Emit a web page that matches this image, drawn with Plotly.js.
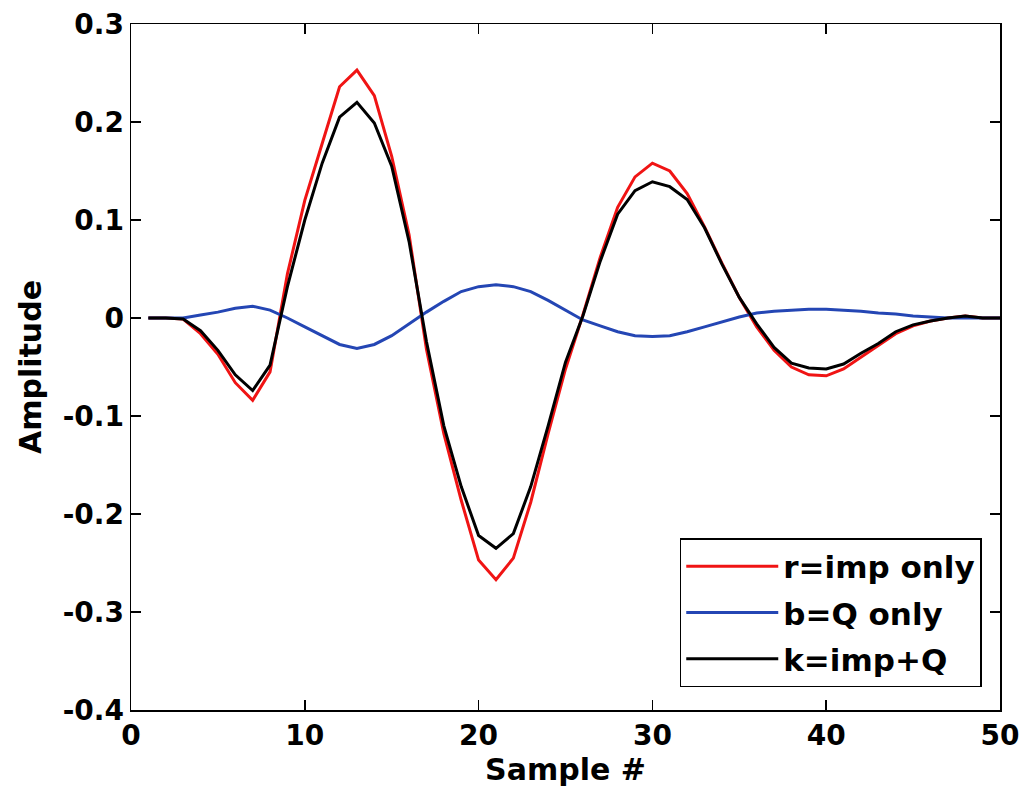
<!DOCTYPE html>
<html>
<head>
<meta charset="utf-8">
<script src="https://cdn.plot.ly/plotly-3.0.1.min.js"></script>
<style>html,body{margin:0;padding:0;background:#fff;}#chart{width:1021px;height:796px;}</style>
</head>
<body>
<div id="chart"></div>
<script>
const samples = [1,2,3,4,5,6,7,8,9,10,11,12,13,14,15,16,17,18,19,20,21,22,23,24,25,26,27,28,29,30,31,32,33,34,35,36,37,38,39,40,41,42,43,44,45,46,47,48,49,50];
const impOnly = [0,0,-0.001,-0.016,-0.037,-0.066,-0.084,-0.055,0.045,0.12,0.178,0.236,0.253,0.227,0.165,0.085,-0.032,-0.118,-0.186,-0.247,-0.267,-0.245,-0.188,-0.118,-0.052,0.003,0.062,0.113,0.144,0.158,0.150,0.127,0.093,0.056,0.021,-0.009,-0.033,-0.050,-0.058,-0.059,-0.052,-0.040,-0.028,-0.016,-0.008,-0.003,0,0.002,0,0];
const qOnly = [0,0,0,0.003,0.006,0.010,0.012,0.008,0,-0.009,-0.018,-0.027,-0.031,-0.027,-0.018,-0.006,0.006,0.017,0.027,0.032,0.034,0.032,0.027,0.018,0.008,-0.002,-0.008,-0.014,-0.018,-0.019,-0.018,-0.014,-0.009,-0.004,0.001,0.005,0.007,0.008,0.009,0.009,0.008,0.007,0.005,0.004,0.002,0.001,0,0,0,0];
const impPlusQ = [0,0,-0.001,-0.013,-0.033,-0.058,-0.074,-0.048,0.032,0.10,0.158,0.205,0.220,0.199,0.155,0.078,-0.024,-0.110,-0.172,-0.222,-0.235,-0.220,-0.172,-0.110,-0.045,0.002,0.058,0.106,0.130,0.139,0.134,0.121,0.092,0.055,0.021,-0.006,-0.030,-0.046,-0.051,-0.052,-0.047,-0.036,-0.026,-0.014,-0.007,-0.003,0,0.002,0,0];
const seriesNames = ['r=imp only','b=Q only','k=imp+Q'];
const xTickVals = [0,10,20,30,40,50];
const xTickText = ['0','10','20','30','40','50'];
const yTickVals = [-0.4,-0.3,-0.2,-0.1,0,0.1,0.2,0.3];
const yTickText = ['-0.4','-0.3','-0.2','-0.1','0','0.1','0.2','0.3'];

const FONT = '"DejaVu Sans", Arial, sans-serif';
const traces = [
  {x: samples, y: impOnly, name: seriesNames[0], legendgroup: 'g1', mode: 'lines', line: {color: '#f01414', width: 3}},
  {x: samples, y: qOnly, name: seriesNames[1], legendgroup: 'g2', mode: 'lines', line: {color: '#2446b4', width: 3}},
  {x: samples, y: impPlusQ, name: seriesNames[2], legendgroup: 'g3', mode: 'lines', line: {color: '#000000', width: 3}}
];
const axisCommon = {
  showgrid: false, zeroline: false, showline: true, linecolor: '#000', linewidth: 1.5,
  mirror: 'ticks', ticks: 'inside', ticklen: 10, tickwidth: 1.5, tickcolor: '#000',
  tickfont: {family: FONT, size: 28, color: '#000', weight: 'bold'}
};
const layout = {
  width: 1021, height: 796,
  paper_bgcolor: '#fff', plot_bgcolor: '#fff',
  margin: {l: 131, r: 21, t: 24, b: 86},
  showlegend: true,
  font: {family: FONT, color: '#000'},
  xaxis: Object.assign({}, axisCommon, {
    range: [0, 50], tickmode: 'array', tickvals: xTickVals, ticktext: xTickText,
    title: {text: 'Sample #', font: {family: FONT, size: 30, color: '#000', weight: 'bold'}, standoff: 4}
  }),
  yaxis: Object.assign({}, axisCommon, {
    range: [-0.4, 0.3], tickmode: 'array', tickvals: yTickVals, ticktext: yTickText,
    title: {text: 'Amplitude', font: {family: FONT, size: 30, color: '#000', weight: 'bold'}, standoff: 12}
  }),
  legend: {
    x: 0.979, y: 0.0335, xanchor: 'right', yanchor: 'bottom',
    bgcolor: '#fff', bordercolor: '#000', borderwidth: 1.5,
    font: {family: FONT, size: 31, color: '#000', weight: 'bold'},
    itemwidth: 92, traceorder: 'grouped', tracegroupgap: 3
  }
};
Plotly.newPlot('chart', traces, layout, {displayModeBar: false, staticPlot: true});
</script>
</body>
</html>
